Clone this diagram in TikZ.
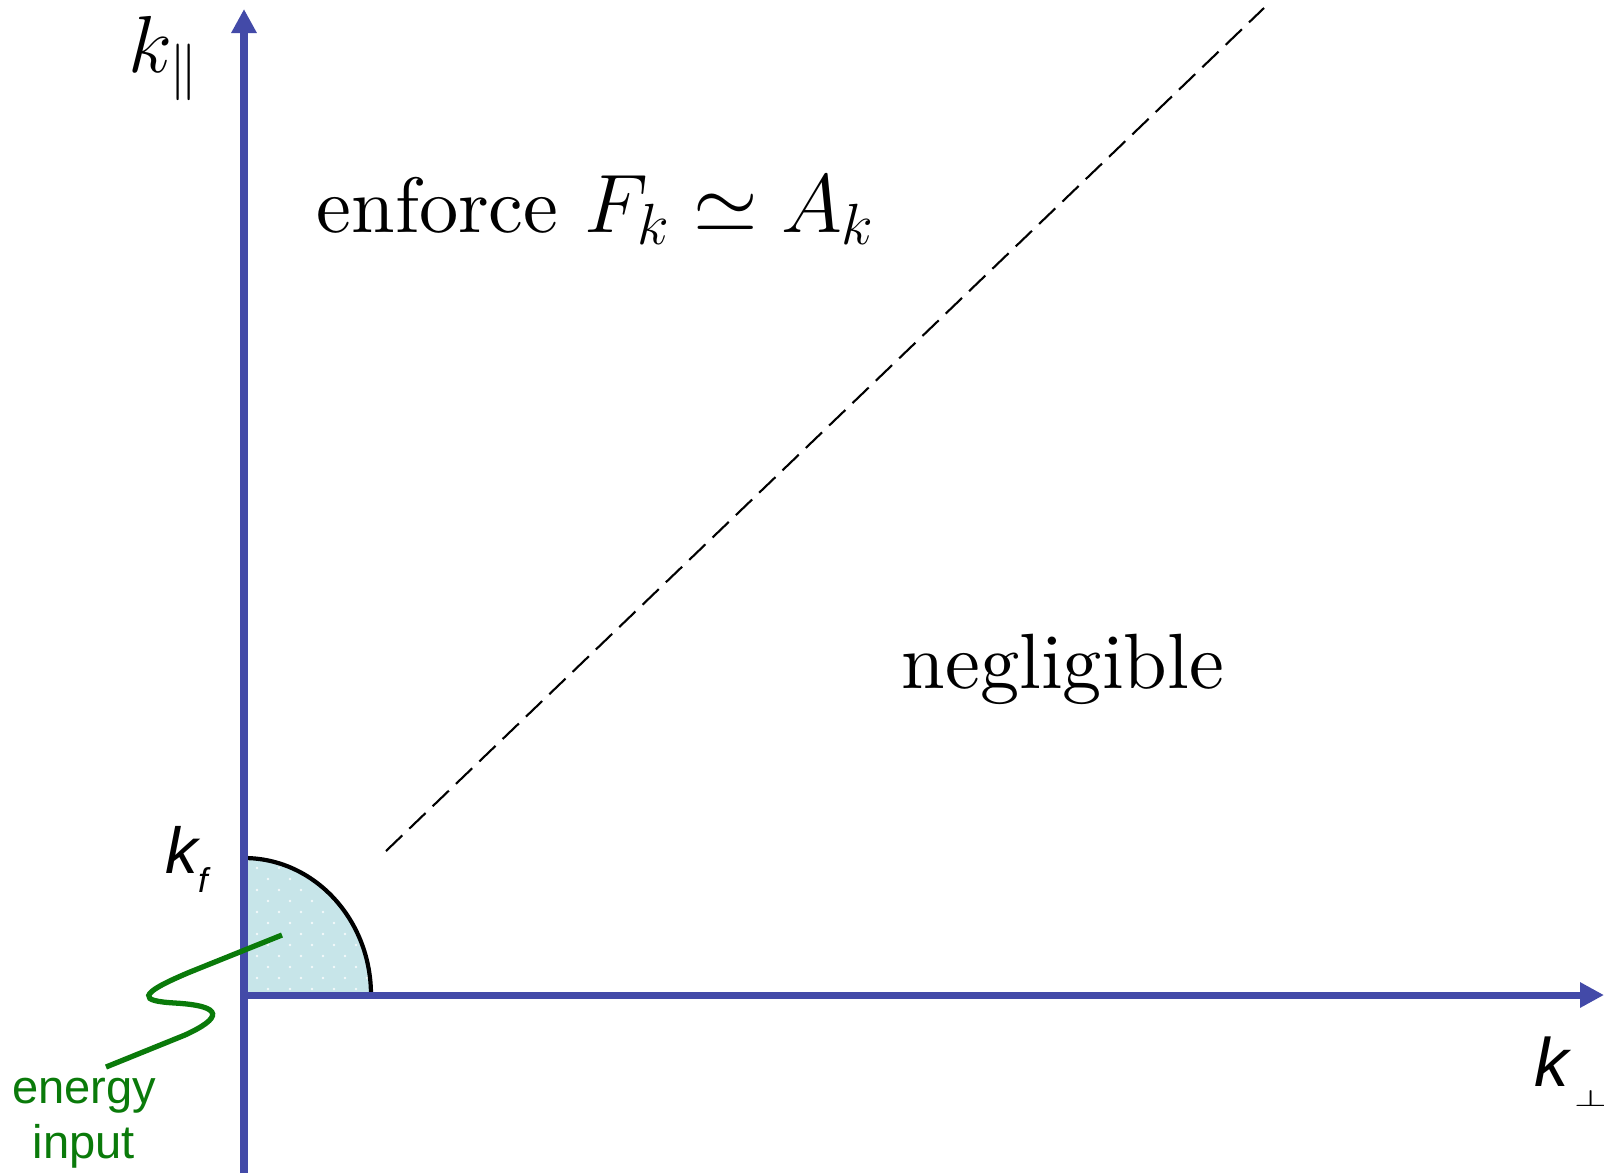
\documentclass[tikz,border=0pt]{standalone}
\usepackage{fix-cm}
\usepackage{fontspec}
\setsansfont{Liberation Sans}
\newfontfamily\romandix{lmroman10-regular.otf}
\usetikzlibrary{arrows.meta}
\definecolor{bleuaxe}{RGB}{67,74,168}
\definecolor{vertonde}{RGB}{10,122,10}
\definecolor{cyanpale}{RGB}{199,229,233}

\begin{document}
\begin{tikzpicture}[x=0.1mm,y=-0.1mm,
    axe/.style={line width=2pt, draw=bleuaxe, -{Triangle[length=2.4mm,width=2.4mm]}},
    grand/.style={font=\romandix\fontsize{22.3}{26}\selectfont, inner sep=0pt},
    ksans/.style={font=\sffamily\itshape\fontsize{18.5}{22}\selectfont, inner sep=0pt},
    pointille/.style={line width=0.6pt, dash pattern=on 6.4pt off 2.8pt}]
\useasboundingbox (0,0) rectangle (1604,1173);
% origine et rayons du quart de disque
\def\ox{244}
\def\oy{995}
\def\rx{127}
\def\ry{137}
\coordinate (O) at (\ox,\oy);
\coordinate (bas) at (\ox,1173);
\coordinate (haut) at (\ox,9);
\coordinate (droite) at (1604,\oy);

% zone de forcage
\fill[cyanpale] (O) -- (\ox+\rx,\oy) arc[start angle=0,end angle=-90,x radius=\rx,y radius=\ry] -- cycle;
\begin{scope}
\clip (O) -- (\ox+\rx,\oy) arc[start angle=0,end angle=-90,x radius=\rx,y radius=\ry] -- cycle;
\foreach \j in {0,...,11}
  \foreach \i in {0,...,5}
    \fill[white,opacity=0.8] ({\ox+13+22*\i+11*mod(\j+1,2)},{\oy-6-11*\j}) circle[radius=1.3];
\end{scope}
\draw[line width=1.2pt] (\ox+\rx,\oy) arc[start angle=0,end angle=-90,x radius=\rx,y radius=\ry];

% axes
\draw[axe] (bas) -- (haut);
\draw[axe] (O) -- (droite);

% diagonale
\coordinate (d1) at (386,851);
\coordinate (d2) at (1264,8);
\draw[pointille] (d1) -- (d2);

% injection d'energie
\coordinate (source) at (282,935);
\coordinate (fin) at (106,1067);
\draw[vertonde, line width=1.5pt] (source) -- (190,972) .. controls (135,995) and (140,1001) .. (175,1003)
  .. controls (225,1006) and (222,1018) .. (185,1035) -- (fin);

% textes
\node[grand, anchor=base west] (enforce) at (316,232)
  {enforce {\fontsize{23.6}{28}\selectfont$F_k \simeq A_k$}};
\node[grand, anchor=base west] (negl) at (901,688) {negligible};
\node[font=\fontsize{23}{27}\selectfont, inner sep=0pt, anchor=base west] (kpar) at (128,72) {$k_\|$};
\node[ksans, anchor=base west] (kf) at (165,873) {k\raisebox{-5.4pt}{\fontsize{9.8}{10}\selectfont f}};
\node[ksans, font=\sffamily\itshape\fontsize{19.5}{22}\selectfont, anchor=base west] (kperp) at (1534,1086)
  {k\hspace{1.2pt}\raisebox{-5.7pt}{\fontsize{6.5}{7}\selectfont\scalebox{1.6}[1]{$\perp$}}};
\node[text=vertonde, font=\sffamily\fontsize{13.4}{15.6}\selectfont, align=center, inner sep=0pt, anchor=base] (energie) at (84,1158)
  {energy\\input};
\end{tikzpicture}
\end{document}
